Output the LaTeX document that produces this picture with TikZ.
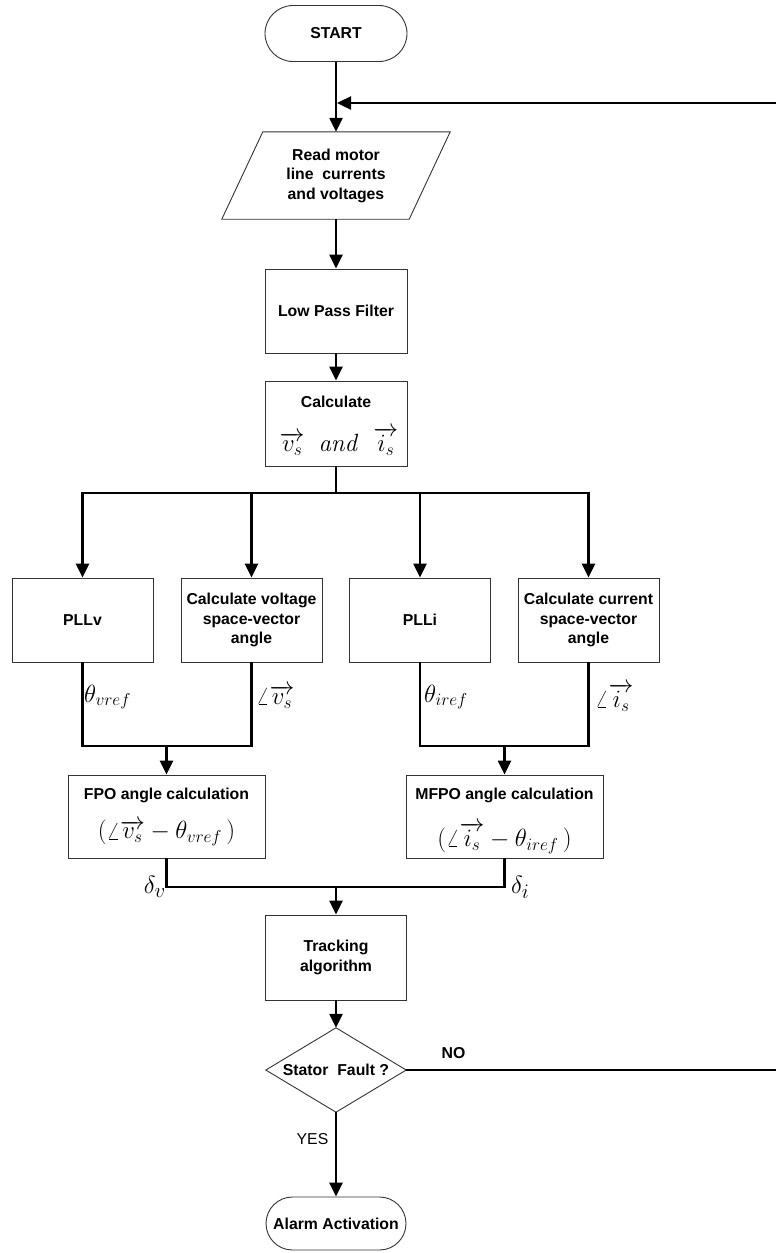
\documentclass[tikz,border=0pt]{standalone}
\usepackage[no-math]{fontspec}
\setmainfont{Liberation Sans}
\usetikzlibrary{arrows.meta,shapes.misc}

\newcommand\procfont{\fontsize{15.8}{19.5}\selectfont\bfseries}
\newcommand\lblfont{\fontsize{15.8}{19.5}\selectfont}
\newcommand\mathfont{\fontsize{25}{29}\selectfont}
\newcommand\deltafont{\fontsize{31}{34}\selectfont}

\tikzset{
  outline/.style={draw=black!80, line width=0.9pt},
  proc/.style={outline, rectangle, minimum width=141pt, minimum height=84pt,
               align=center, font=\procfont, inner sep=0pt},
  term/.style={outline, rounded rectangle, minimum width=142pt, minimum height=56pt,
               align=center, font=\procfont, inner sep=0pt},
  plain/.style={rectangle, align=center, font=\procfont, inner sep=0pt},
  wire/.style={line width=2.4pt},
  conn/.style={wire, -{Triangle[width=13pt,length=14pt]}},
  mlabel/.style={inner sep=0pt, font=\mathfont},
}

\begin{document}
\begin{tikzpicture}[x=1pt, y=-1pt]
  \useasboundingbox (0,0) rectangle (776,1253);

  % main column
  \node[term] (start) at (336,33.5) {START};

  \node[plain, minimum width=187pt, minimum height=87pt] (read) at (336,175.5)
       {Read motor\\line\ \ currents\\and voltages};
  \draw[outline] ([xshift=20.5pt]read.north west) -- ([xshift=20.5pt]read.north east)
       -- ([xshift=-20.5pt]read.south east) -- ([xshift=-20.5pt]read.south west) -- cycle;

  \node[proc, minimum width=142pt] (lpf) at (336,311) {Low Pass Filter};

  % box outline first, its two text lines as separate nodes
  \node[proc, minimum width=142pt, minimum height=85pt] (calc) at (336,423.5) {};
  \node[plain] (calcT) at (336,402) {Calculate};
  \node[mlabel] (calcM) at (339,441) {$\overrightarrow{v_s}\;\;\mathit{and}\;\;\overrightarrow{i_s}$};

  % four parallel blocks
  \node[proc] (pllv) at (82.5,620) {PLLv};
  \node[proc] (volt) at (251.5,620) {Calculate voltage\\space-vector\\angle};
  \node[proc] (plli) at (420,620) {PLLi};
  \node[proc] (curr) at (588.5,620) {Calculate current\\space-vector\\angle};

  % angle calculations
  \node[proc, minimum width=197pt, minimum height=83pt] (fpo) at (166.5,816.5) {};
  \node[plain] (fpoT) at (166.5,795) {FPO angle calculation};
  \node[mlabel] (fpoM) at (166.5,833) {$(\angle\overrightarrow{v_s}-\theta_{vref}\,)$};

  \node[proc, minimum width=197pt, minimum height=83pt] (mfpo) at (504.5,816.5) {};
  \node[plain] (mfpoT) at (504.5,795) {MFPO angle calculation};
  \node[mlabel] (mfpoM) at (504.5,838) {$(\angle\overrightarrow{i_s}-\theta_{iref}\,)$};

  \node[proc, minimum height=85pt] (track) at (336,957.5) {Tracking\\algorithm};

  % decision
  \node[plain, minimum width=140pt, minimum height=84pt] (dec) at (336,1070) {Stator\ \ Fault ?};
  \draw[outline] (dec.north) -- (dec.east) -- (dec.south) -- (dec.west) -- cycle;

  \node[term, minimum width=140pt, minimum height=53pt] (alarm) at (336,1223.5) {Alarm Activation};

  % junction points
  \coordinate (bus) at (336,493);
  \coordinate (j1) at (166.5,746);
  \coordinate (j2) at (504.5,746);
  \coordinate (j3) at (336,887);
  \coordinate (fbA) at (782,1070);
  \coordinate (fbB) at (782,103);
  \coordinate (fbC) at (337,103);

  % connectors
  \draw[conn] (start.south) -- (read.north);
  \draw[conn] (dec.east) -- (fbA) -- (fbB) -- (fbC);
  \draw[conn] (read.south) -- (lpf.north);
  \draw[conn] (lpf.south) -- (calc.north);
  \draw[wire] (calc.south) -- (bus);
  \draw[conn] (bus) -| (pllv.north);
  \draw[conn] (bus) -| (volt.north);
  \draw[conn] (bus) -| (plli.north);
  \draw[conn] (bus) -| (curr.north);

  \draw[wire] (pllv.south) |- (j1);
  \draw[wire] (volt.south) |- (j1);
  \draw[conn] (j1) -- (fpo.north);
  \draw[wire] (plli.south) |- (j2);
  \draw[wire] (curr.south) |- (j2);
  \draw[conn] (j2) -- (mfpo.north);

  \draw[wire] (fpo.south) |- (j3);
  \draw[wire] (mfpo.south) |- (j3);
  \draw[conn] (j3) -- (track.north);
  \draw[conn] (track.south) -- (dec.north);
  \draw[conn] (dec.south) -- (alarm.north);

  % signal labels
  \node[mlabel, anchor=west] (lthv) at (84,697) {$\theta_{vref}$};
  \node[mlabel, anchor=west] (langv) at (256,697) {$\angle\overrightarrow{v_s}$};
  \node[mlabel, anchor=west] (lthi) at (424,697) {$\theta_{iref}$};
  \node[mlabel, anchor=west] (langi) at (595,697) {$\angle\overrightarrow{i_s}$};
  \node[inner sep=0pt, font=\deltafont, anchor=east] (ldv) at (166,887) {$\delta_v$};
  \node[inner sep=0pt, font=\deltafont, anchor=west] (ldi) at (511,887) {$\delta_i$};

  \node[inner sep=0pt, font=\lblfont] (lyes) at (312.5,1139) {YES};
  \node[inner sep=0pt, font=\procfont] (lno) at (453.5,1053) {NO};
\end{tikzpicture}
\end{document}
